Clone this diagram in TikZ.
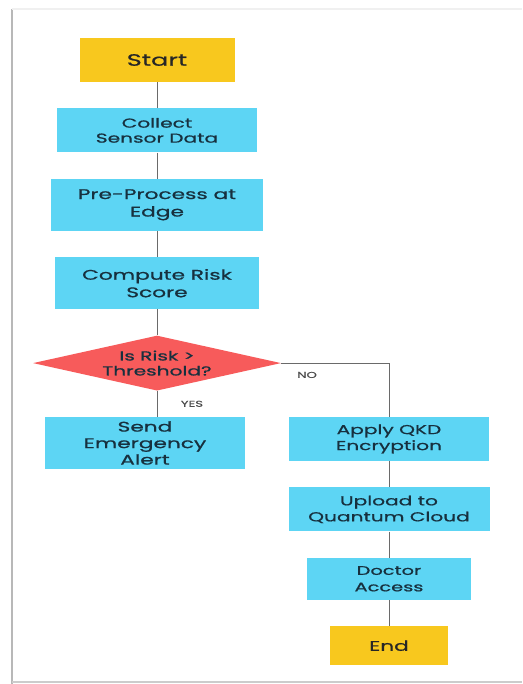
\documentclass[tikz,border=0pt]{standalone}
\usepackage{fontspec}
\setmainfont{Poppins}[FakeStretch=1.55,FakeBold=0.8]
\usepackage{xcolor}
\usepackage{tikz}
\usetikzlibrary{positioning,shapes.geometric}
\definecolor{termfill}{HTML}{F8C81E}
\definecolor{procfill}{HTML}{5DD5F4}
\definecolor{decfill}{HTML}{F75B5B}
\definecolor{inktext}{HTML}{17303E}
\definecolor{flowline}{HTML}{6A6A6A}

\begin{document}
\begin{tikzpicture}[x=1pt,y=-1pt,node distance=26pt,
term/.style={fill=termfill,text=black!85,minimum height=44pt,font=\fontsize{16.5}{18}\selectfont},
proc/.style={fill=procfill,text=inktext,minimum width=200pt,minimum height=44pt,align=center,font=\fontsize{13}{16}\selectfont},
decision/.style={diamond,aspect=4.5,inner sep=0pt,fill=decfill,text=inktext,minimum width=248pt,minimum height=55pt,align=center,font=\fontsize{13}{15}\selectfont},
flow/.style={draw=flowline,line width=1pt},
tag/.style={font=\fontsize{8.5}{10}\selectfont,text=black!70}]
\useasboundingbox (0,0) rectangle (522,684);
% page frame
\draw[black!28,line width=2pt] (12,684) -- (12,9);
\draw[black!6,line width=1.5pt] (12,9) -- (522,9);
\draw[black!20,line width=1.2pt] (12,682) -- (522,682);
% left column
\node[term,minimum width=155pt] (start) at (157,60) {Start};
\node[proc,font=\fontsize{13}{15}\selectfont,below=of start] (collect) {Collect\\Sensor Data};
\node[proc,minimum width=212pt,minimum height=52pt,font=\fontsize{14}{17.5}\selectfont,below=of collect] (preproc) {Pre-Process at\\Edge};
\node[proc,minimum width=204pt,minimum height=52pt,font=\fontsize{14}{17.5}\selectfont,below=of preproc] (risk) {Compute Risk\\Score};
\node[decision,below=of risk] (check) {Is Risk >\\Threshold?};
\node[proc,minimum height=52pt,font=\fontsize{14}{16.5}\selectfont,below=of check,xshift=-12pt] (alert) {Send\\Emergency\\Alert};
% right column
\node[proc,anchor=north] (qkd) at (alert.north -| 389,0) {Apply QKD\\Encryption};
\node[proc,minimum width=201pt,below=of qkd] (upload) {Upload to\\Quantum Cloud};
\node[proc,minimum width=164pt,minimum height=42pt,font=\fontsize{12.5}{16.5}\selectfont,below=of upload] (doctor) {Doctor\\Access};
\node[term,minimum width=118pt,minimum height=39pt,font=\fontsize{14}{16}\selectfont,below=of doctor] (end) {End};
\path[flow](start) edge (collect);
\path[flow](collect) edge (preproc);
\path[flow](preproc) edge (risk);
\path[flow](risk) edge (check);
\path[flow](check) edge node[tag,right=20pt]{YES} (check |- alert.north);
\draw[flow](check.east) -| node[tag,pos=0.12,below=5pt]{NO} (qkd.north);
\path[flow](qkd) edge (upload);
\path[flow](upload) edge (doctor);
\path[flow](doctor) edge (end);
\end{tikzpicture}
\end{document}
